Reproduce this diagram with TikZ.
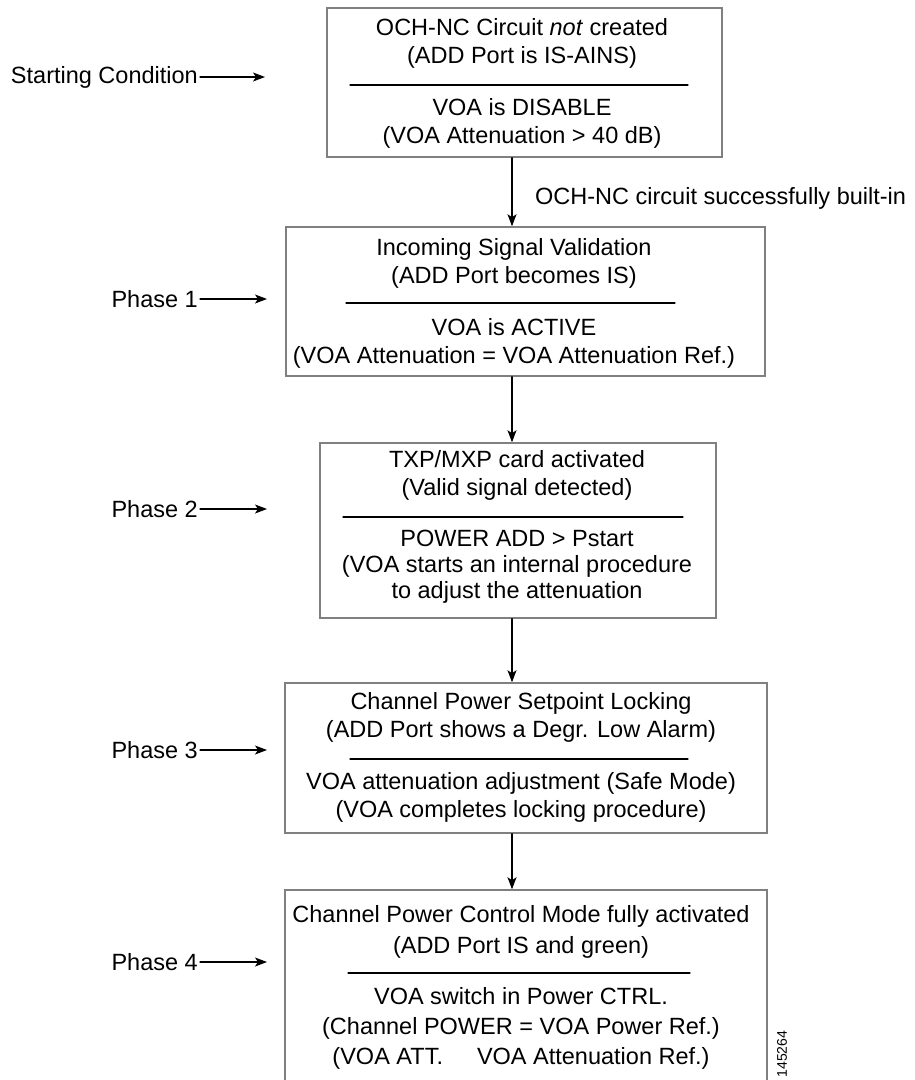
\documentclass[tikz,border=0pt]{standalone}
\usepackage{fontspec}
\setmainfont{Liberation Sans}
\usetikzlibrary{arrows.meta}

\begin{document}
\begin{tikzpicture}[x=1pt,y=-1pt,line cap=round]
	\tikzstyle{box}=[draw=black!50,line width=1.5pt,inner sep=0pt];
	\tikzstyle{txt}=[align=center,inner sep=0pt,font=\fontsize{23.5}{28}\selectfont];
	\tikzstyle{sep}=[line width=1.2pt];
	\tikzstyle{flow}=[line width=1.2pt,-{Stealth[length=12pt,width=9pt,inset=3pt]}];
	\useasboundingbox (0,0) rectangle (915,1080);
	\clip (0,0) rectangle (915,1080);

	% frames
	\node[box,minimum width=395pt,minimum height=149pt] (b0) at (524.5,82.5) {};
	\node[box,minimum width=479pt,minimum height=149pt] (b1) at (525.5,301.5) {};
	\node[box,minimum width=396pt,minimum height=175pt] (b2) at (518,530.5) {};
	\node[box,minimum width=482pt,minimum height=150pt] (b3) at (526,758) {};
	\node[box,minimum width=482pt,minimum height=200pt] (b4) at (526,990) {};

	% texts
	\node[txt] (b0up) at (522,43.5) {OCH-NC Circuit \emph{not} created\\(ADD Port is IS-AINS)};
	\node[txt] (b0lo) at (522,123.5) {VOA is DISABLE\\(VOA Attenuation > 40 dB)};
	\draw[sep] (350,85) -- (688,85);
	\node[txt] (b1up) at (514,263.5) {Incoming Signal Validation\\(ADD Port becomes IS)};
	\node[txt] (b1lo) at (514,343.5) {VOA is ACTIVE\\(VOA Attenuation = VOA Attenuation Ref.)};
	\draw[sep] (346,303) -- (675,303);
	\node[txt] (b2up) at (517,475.5) {TXP/MXP card activated\\(Valid signal detected)};
	\node[txt,font=\fontsize{23.5}{26}\selectfont] (b2lo) at (517,567) {POWER ADD > Pstart\\(VOA starts an internal procedure\\to adjust the attenuation};
	\draw[sep] (343,517) -- (683,517);
	\node[txt] (b3up) at (521,717.5) {Channel Power Setpoint Locking\\(ADD Port shows a Degr. Low Alarm)};
	\node[txt] (b3lo) at (521,797.5) {VOA attenuation adjustment (Safe Mode)\\(VOA completes locking procedure)};
	\draw[sep] (350,759) -- (688,759);
	\node[txt,font=\fontsize{23.5}{31}\selectfont] (b4up) at (521,932) {Channel Power Control Mode fully activated\\(ADD Port IS and green)};
	\node[txt,font=\fontsize{23.5}{30}\selectfont] (b4lo) at (521,1028) {VOA switch in Power CTRL.\\(Channel POWER = VOA Power Ref.)\\(VOA ATT.\hspace{34pt}VOA Attenuation Ref.)};
	\draw[sep] (348,973) -- (690,973);

	% flow down the middle
	\coordinate (ax) at (512,0);
	\draw[flow] (b0.south -| ax) -- (b1.north -| ax);
	\draw[flow] (b1.south -| ax) -- (b2.north -| ax);
	\draw[flow] (b2.south -| ax) -- (b3.north -| ax);
	\draw[flow] (b3.south -| ax) -- (b4.north -| ax);
	\node[txt,anchor=west] (built) at (535,198) {OCH-NC circuit successfully built-in};

	% phase labels
	\node[txt,anchor=east] (p0) at (198,77) {Starting Condition};
	\node[txt,anchor=east] (p1) at (198,299) {Phase 1};
	\node[txt,anchor=east] (p2) at (198,509) {Phase 2};
	\node[txt,anchor=east] (p3) at (198,750) {Phase 3};
	\node[txt,anchor=east] (p4) at (198,962) {Phase 4};
	\coordinate (p0e) at (265,77);
	\coordinate (p1e) at (267,299);
	\coordinate (p2e) at (267,509);
	\coordinate (p3e) at (267,750);
	\coordinate (p4e) at (267,962);
	\draw[flow] ([xshift=2pt]p0.east) -- (p0e);
	\draw[flow] ([xshift=2pt]p1.east) -- (p1e);
	\draw[flow] ([xshift=2pt]p2.east) -- (p2e);
	\draw[flow] ([xshift=2pt]p3.east) -- (p3e);
	\draw[flow] ([xshift=2pt]p4.east) -- (p4e);

	\node[inner sep=0pt,rotate=90,font=\fontsize{14}{14}\selectfont] (figno) at (782,1054) {145264};
\end{tikzpicture}
\end{document}
